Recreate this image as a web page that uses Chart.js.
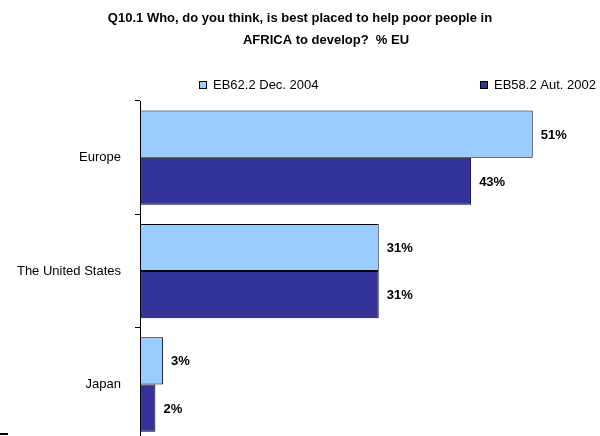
<!DOCTYPE html>
<html>
<head>
<meta charset="utf-8">
<script src="https://cdn.jsdelivr.net/npm/chart.js@4"></script>
<style>
html,body{margin:0;padding:0;background:#fff;overflow:hidden;width:600px;height:436px;}
#wrap{position:absolute;left:0;top:0;width:600px;height:436px;overflow:hidden;}
</style>
</head>
<body>
<div id="wrap"><canvas id="c" width="600" height="463"></canvas></div>
<script>
const titleLines = ["Q10.1 Who, do you think, is best placed to help poor people in", "AFRICA to develop?  % EU"];
const categories = ["Europe", "The United States", "Japan"];
const seriesNames = ["EB62.2 Dec. 2004", "EB58.2 Aut. 2002"];
const dec2004 = [51, 31, 3];
const aut2002 = [43, 31, 2];
const colors = ["#99CCFF", "#333399"];
const FONT = "'Liberation Sans', Arial, sans-serif";

const decoPlugin = {
  id: 'deco',
  afterDatasetsDraw(chart) {
    const ctx = chart.ctx;
    ctx.save();
    // value labels
    ctx.font = "bold 13px " + FONT;
    ctx.fillStyle = "#000";
    ctx.textAlign = "left";
    ctx.textBaseline = "middle";
    chart.data.datasets.forEach((ds, di) => {
      const meta = chart.getDatasetMeta(di);
      meta.data.forEach((bar, i) => {
        ctx.fillText(ds.data[i] + "%", bar.x + 8, bar.y + 1);
      });
    });
    // title
    ctx.font = "bold 13px " + FONT;
    ctx.textAlign = "center";
    ctx.fillText(titleLines[0], 300, 18);
    ctx.fillText(titleLines[1], 326, 40);
    // legend
    const legendX = [199, 480];
    ctx.font = "13px " + FONT;
    ctx.textAlign = "left";
    chart.data.datasets.forEach((ds, di) => {
      const x = legendX[di];
      ctx.fillStyle = ds.backgroundColor;
      ctx.fillRect(x + 0.5, 81.5, 7, 7);
      ctx.strokeStyle = "#000";
      ctx.lineWidth = 1;
      ctx.strokeRect(x + 0.5, 81.5, 7, 7);
      ctx.fillStyle = "#000";
      ctx.fillText(ds.label, x + 14, 85);
    });
    // small artifact line bottom-left
    ctx.fillStyle = "#000";
    ctx.fillRect(0, 433, 8, 2);
    ctx.restore();
  }
};

new Chart(document.getElementById('c'), {
  type: 'bar',
  data: {
    labels: categories,
    datasets: [
      { label: seriesNames[0], data: dec2004, backgroundColor: colors[0], borderColor: "#000", borderWidth: 1, borderSkipped: false },
      { label: seriesNames[1], data: aut2002, backgroundColor: colors[1], borderColor: "#000", borderWidth: 1, borderSkipped: false }
    ]
  },
  options: {
    indexAxis: 'y',
    responsive: false,
    animation: false,
    devicePixelRatio: 1,
    layout: { padding: { top: 101, left: 0, right: 38, bottom: 0 } },
    datasets: { bar: { categoryPercentage: 0.832, barPercentage: 1.0 } },
    plugins: { legend: { display: false }, title: { display: false }, tooltip: { enabled: false } },
    scales: {
      x: { display: false, min: 0, max: 54.8 },
      y: {
        offset: true,
        afterFit(scale) { scale.width = 140; },
        border: { display: true, color: "#000", width: 1 },
        grid: { offset: true, drawOnChartArea: false, drawTicks: true, tickLength: 5, color: "#000", lineWidth: 1 },
        ticks: { color: "#000", padding: 14, font: { family: FONT, size: 13 } }
      }
    }
  },
  plugins: [decoPlugin]
});
</script>
</body>
</html>
